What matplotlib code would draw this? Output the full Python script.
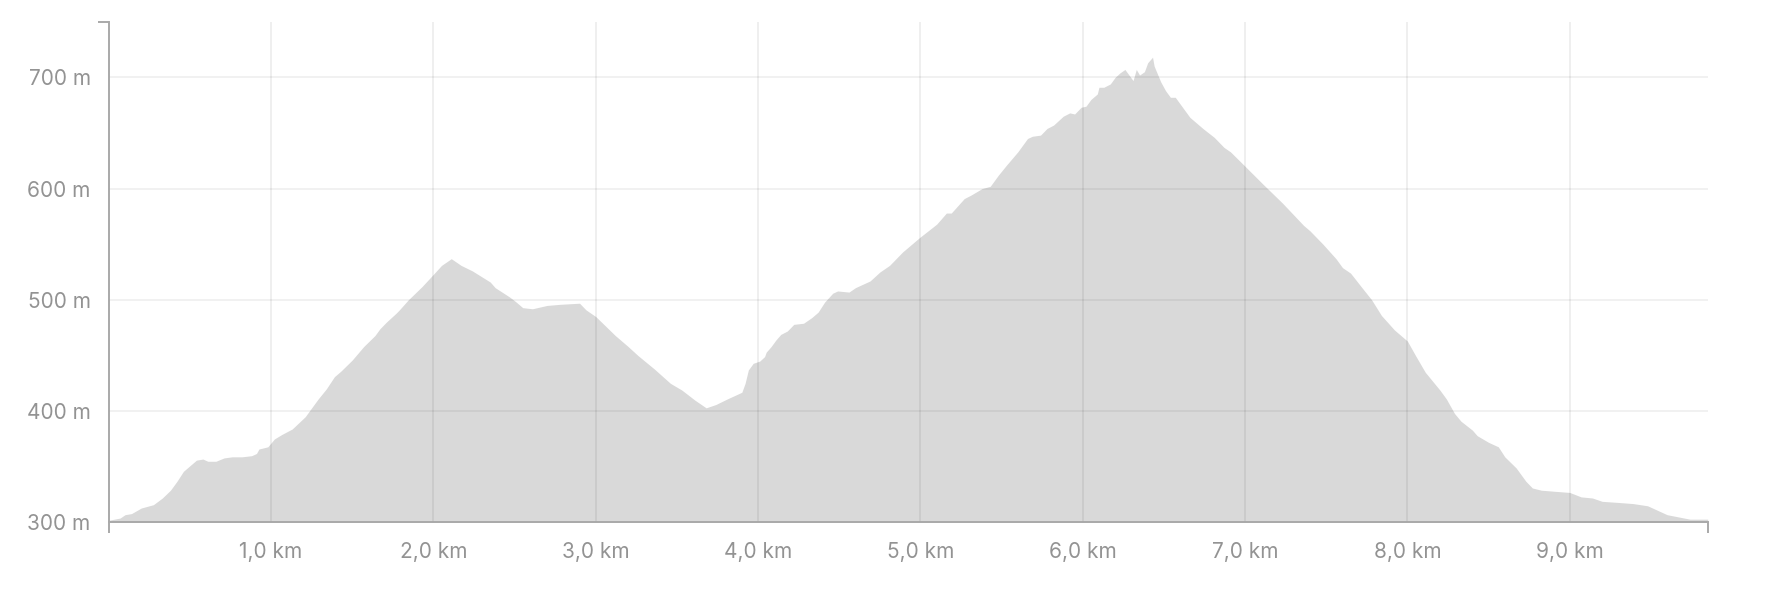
import matplotlib
matplotlib.use("Agg")
import matplotlib.pyplot as plt
from matplotlib.ticker import FixedLocator

distance_km = [
    0.00, 0.07, 0.10, 0.14, 0.20, 0.275, 0.33, 0.38, 0.42, 0.46, 0.50, 0.54, 0.58,
    0.61, 0.66, 0.71, 0.76, 0.82, 0.88, 0.91, 0.925, 0.98, 1.02, 1.065, 1.13, 1.21,
    1.24, 1.29, 1.34, 1.39, 1.43, 1.50, 1.57, 1.64, 1.67, 1.71, 1.77, 1.79, 1.845,
    1.93, 2.00, 2.05, 2.11, 2.17, 2.24, 2.35, 2.38, 2.47, 2.51, 2.55, 2.61, 2.67,
    2.70, 2.78, 2.90, 2.94, 3.00, 3.12, 3.20, 3.26, 3.36, 3.46, 3.53, 3.61, 3.68,
    3.74, 3.81, 3.87, 3.90, 3.92, 3.94, 3.97, 4.01, 4.04, 4.05, 4.08, 4.11, 4.14,
    4.18, 4.22, 4.28, 4.33, 4.37, 4.41, 4.46, 4.49, 4.56, 4.60, 4.69, 4.75, 4.81,
    4.89, 4.995, 5.10, 5.16, 5.19, 5.27, 5.31, 5.38, 5.43, 5.48, 5.53, 5.60, 5.66,
    5.69, 5.74, 5.78, 5.82, 5.88, 5.92, 5.95, 5.99, 6.02, 6.05, 6.09, 6.10, 6.13,
    6.17, 6.20, 6.23, 6.26, 6.29, 6.31, 6.33, 6.35, 6.38, 6.40, 6.43, 6.44, 6.48,
    6.51, 6.54, 6.57, 6.61, 6.66, 6.74, 6.81, 6.87, 6.91, 7.00, 7.11, 7.23, 7.36,
    7.40, 7.48, 7.56, 7.60, 7.65, 7.72, 7.78, 7.84, 7.92, 8.00, 8.05, 8.11, 8.20,
    8.24, 8.29, 8.33, 8.40, 8.43, 8.50, 8.56, 8.60, 8.67, 8.73, 8.77, 8.825, 8.91,
    9.00, 9.07, 9.14, 9.20, 9.30, 9.39, 9.48, 9.54, 9.60, 9.67, 9.74, 9.85,
]
elevation_m = [
    302, 304, 307, 308, 313, 316, 322, 329, 337, 346, 351, 356, 357,
    355, 355, 358, 359, 359, 360, 362, 366, 368, 375, 379, 384, 395,
    401, 411, 420, 431, 436, 446, 458, 468, 474, 480, 488, 491, 500,
    512, 523, 531, 537, 531, 526, 516, 511, 502.5, 498, 493, 492, 494,
    495, 496, 497, 491, 485, 468, 458, 450, 438, 425, 419, 410, 403,
    406, 411, 415, 417, 425, 437, 443, 445, 449, 453, 458, 464, 469,
    472, 478, 479, 484, 489, 498, 506, 508, 507, 511, 517, 525, 531,
    543, 556, 568, 578, 578, 591, 594, 600, 602, 612, 621, 633, 645,
    647, 648, 654, 657, 665, 668, 667, 673, 674, 680, 685, 691, 691,
    694, 700, 704, 707, 701, 697, 707, 702, 705, 713, 718, 710, 696,
    688, 682, 682, 674, 664, 654, 646, 637, 633, 620, 604, 587, 567,
    562, 550, 537, 529, 524, 511, 500, 486, 473, 463, 450, 435, 419,
    411, 398, 391, 383, 378, 372, 368, 359, 349, 337, 331, 329, 328,
    327, 323, 322, 319, 318, 317, 315, 311, 307, 305, 303, 303,
]

x_ticks = [1, 2, 3, 4, 5, 6, 7, 8, 9]
x_tick_labels = ["1,0 km", "2,0 km", "3,0 km", "4,0 km", "5,0 km",
                 "6,0 km", "7,0 km", "8,0 km", "9,0 km"]
y_ticks = [300, 400, 500, 600, 700]
y_tick_labels = ["300 m", "400 m", "500 m", "600 m", "700 m"]

x_max = 9.855
y_min, y_max = 300, 750

plt.rcParams['font.family'] = ['Inter', 'DejaVu Sans']

fig = plt.figure(figsize=(17.86, 5.92), dpi=100)
ax = fig.add_axes([0.0609, 0.1174, 0.9566 - 0.0609, 0.9635 - 0.1174])

ax.fill_between(distance_km, elevation_m, y_min, color="#d9d9d9",
                linewidth=0, zorder=1)

ax.set_xlim(0, x_max)
ax.set_ylim(y_min, y_max)

ax.set_xticks(x_ticks)
ax.set_xticklabels(x_tick_labels)
ax.set_yticks(y_ticks)
ax.set_yticklabels(y_tick_labels)

# outer (domain) ticks
ax.xaxis.set_minor_locator(FixedLocator([0, x_max]))
ax.yaxis.set_minor_locator(FixedLocator([y_min, y_max]))

axis_col = "#a9a9a9"
text_col = "#939393"
ax.tick_params(axis="both", which="major", length=0, labelsize=15,
               labelcolor=text_col)
ax.tick_params(axis="x", which="major", pad=14)
ax.tick_params(axis="y", which="major", pad=13)
ax.tick_params(axis="both", which="minor", length=8, width=1.4,
               color=axis_col, direction="out")

for side in ("top", "right"):
    ax.spines[side].set_visible(False)
for side in ("left", "bottom"):
    ax.spines[side].set_color(axis_col)
    ax.spines[side].set_linewidth(1.4)
    ax.spines[side].set_zorder(4)

# grid lines (drawn over the area, semi-transparent)
for xv in x_ticks:
    ax.axvline(xv, color="black", alpha=0.07, linewidth=1.3, zorder=2)
for yv in y_ticks[1:]:
    ax.axhline(yv, color="black", alpha=0.06, linewidth=1.3, zorder=2)

fig.savefig("out.png", dpi=100)
